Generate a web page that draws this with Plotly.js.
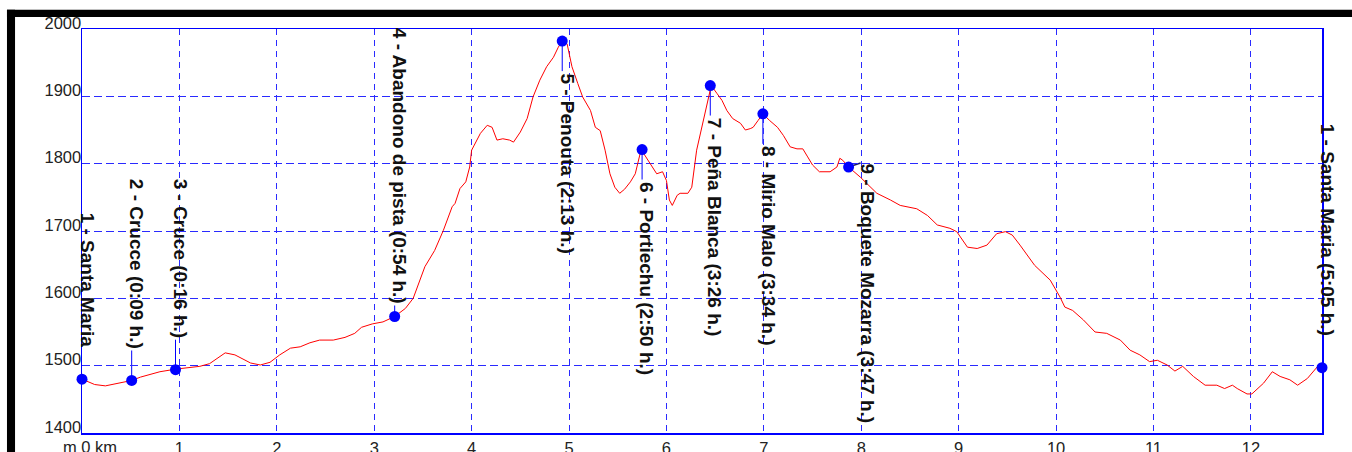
<!DOCTYPE html>
<html><head><meta charset="utf-8">
<script src="https://cdn.plot.ly/plotly-3.0.1.min.js"></script>
<style>html,body{margin:0;padding:0;background:#fff;overflow:hidden}#chart{width:1352px;height:452px}</style>
</head><body><div id="chart"></div>
<script>
// Elevation profile (distance in km, elevation in m)
const profileKm = [0.00,0.13,0.24,0.36,0.51,0.60,0.80,0.97,1.21,1.31,1.47,1.57,1.73,1.83,1.93,2.03,2.14,2.24,2.34,2.44,2.58,2.70,2.80,2.87,2.98,3.09,3.21,3.32,3.40,3.52,3.62,3.71,3.80,3.83,3.88,3.94,3.98,4.00,4.09,4.16,4.21,4.26,4.32,4.39,4.43,4.50,4.57,4.63,4.70,4.77,4.84,4.89,4.93,4.98,5.03,5.09,5.14,5.22,5.27,5.32,5.37,5.42,5.47,5.52,5.57,5.63,5.68,5.74,5.83,5.90,5.96,6.00,6.03,6.06,6.11,6.14,6.22,6.26,6.31,6.37,6.42,6.46,6.52,6.57,6.62,6.68,6.76,6.81,6.86,6.89,6.94,6.99,7.06,7.14,7.20,7.27,7.34,7.40,7.45,7.50,7.57,7.68,7.75,7.78,7.81,7.87,7.99,8.16,8.30,8.40,8.57,8.68,8.78,8.91,8.98,9.09,9.19,9.29,9.39,9.48,9.55,9.63,9.78,9.94,10.04,10.09,10.17,10.28,10.40,10.52,10.66,10.76,10.86,10.96,11.04,11.14,11.22,11.30,11.41,11.53,11.65,11.73,11.81,11.86,11.96,12.01,12.13,12.22,12.30,12.40,12.48,12.58,12.68,12.73];
const profileElev = [1480,1472,1470,1474,1478,1483,1491,1495,1499,1503,1519,1516,1504,1501,1505,1516,1526,1528,1534,1538,1538,1542,1548,1557,1562,1565,1573,1585,1600,1647,1671,1701,1736,1741,1763,1773,1795,1820,1845,1857,1854,1835,1837,1835,1832,1847,1867,1899,1924,1944,1958,1973,1982,1978,1944,1919,1899,1879,1854,1849,1820,1785,1765,1756,1762,1773,1785,1821,1800,1785,1788,1775,1746,1738,1753,1756,1756,1765,1820,1860,1894,1916,1904,1894,1879,1867,1860,1850,1852,1854,1864,1874,1864,1854,1842,1825,1822,1822,1810,1798,1788,1788,1795,1808,1805,1795,1780,1756,1746,1738,1733,1723,1709,1704,1699,1676,1674,1679,1696,1699,1694,1679,1649,1627,1602,1587,1582,1568,1550,1548,1538,1523,1516,1506,1508,1501,1492,1499,1484,1471,1471,1466,1471,1466,1458,1458,1474,1491,1484,1479,1471,1481,1498,1497];

// Waypoints
const waypointNames = ["1 - Santa Maria","2 - Crucce (0:09 h.)","3 - Cruce (0:16 h.)","4 - Abandono de pista (0:54 h.)","5 - Penouta (2:13 h.)","6 - Portiechu (2:50 h.)","7 - Peña Blanca (3:26 h.)","8 - Mirio Malo (3:34 h.)","9 - Boquete Mozarra (3:47 h.)","1 - Santa Maria (5:05 h.)"];
const waypointKm = [0, 0.51, 0.96, 3.21, 4.93, 5.75, 6.45, 6.99, 7.87, 12.73];
const waypointElev = [1480, 1478, 1494, 1573, 1982, 1821, 1916, 1874, 1795, 1497];

// Axes
const xTickValues = [0,1,2,3,4,5,6,7,8,9,10,11,12];
const xTickLabels = ["m 0 km","1","2","3","4","5","6","7","8","9","10","11","12"];
const yTickValues = [1400,1500,1600,1700,1800,1900,2000];
const yTickLabels = ["1400","1500","1600","1700","1800","1900","2000"];

const FONT = "'Liberation Sans', Arial, sans-serif";
const BLUE = "#0000ff";
const GRID = "#2a2aff";

const traces = [
  {x: profileKm, y: profileElev, type: 'scatter', mode: 'lines',
   line: {color: '#ff0000', width: 1}, hoverinfo: 'skip'},
  {x: waypointKm, y: waypointElev, type: 'scatter', mode: 'markers',
   marker: {color: BLUE, size: 11, symbol: 'circle'}, hoverinfo: 'skip', cliponaxis: false}
];

const shapes = [];
const annotations = [];
const xmax = waypointKm[waypointKm.length - 1];
waypointNames.forEach((name, i) => {
  const below = waypointElev[i] > 1700;
  const sideways = i === 8;
  let stem = (i === 3) ? 11 : 30;
  if (sideways) {
    shapes.push({type: 'line', xref: 'x', yref: 'y', xsizemode: 'pixel', ysizemode: 'pixel',
      xanchor: waypointKm[i], yanchor: waypointElev[i], x0: 0, x1: 12, y0: 0, y1: 4,
      line: {color: '#1a1a66', width: 1.5}, layer: 'below'});
    annotations.push({text: name, x: waypointKm[i], y: waypointElev[i], xref: 'x', yref: 'y',
      showarrow: false, textangle: 90, xanchor: 'center', yanchor: 'top', xshift: 19, yshift: 6,
      font: {family: FONT, size: 19, color: '#111', weight: 'bold'}});
    return;
  }
  if (i !== 0 && i !== waypointNames.length - 1) {
    shapes.push({type: 'line', xref: 'x', yref: 'y', ysizemode: 'pixel',
      yanchor: waypointElev[i], x0: waypointKm[i], x1: waypointKm[i], y0: 0, y1: below ? -stem : stem,
      line: {color: BLUE, width: 1}, layer: 'below'});
  }
  annotations.push({text: name, x: waypointKm[i], y: waypointElev[i], xref: 'x', yref: 'y',
    showarrow: false, textangle: 90, xanchor: 'center', yanchor: below ? 'top' : 'bottom',
    xshift: 5, yshift: below ? -stem : stem,
    font: {family: FONT, size: 19, color: '#111', weight: 'bold'}});
});

// "m 0 km" label
annotations.push({text: xTickLabels[0], x: xTickValues[0], y: 0, xref: 'x', yref: 'paper',
  showarrow: false, xanchor: 'center', yanchor: 'top', xshift: 8, yshift: -3,
  font: {family: FONT, size: 16.5, color: '#222'}});

// black frame bars
shapes.push({type: 'rect', xref: 'paper', yref: 'paper', x0: -0.0605, x1: -0.054, y0: -0.1, y1: 1.0475,
  fillcolor: '#000', line: {width: 0}, layer: 'above'});
shapes.push({type: 'rect', xref: 'paper', yref: 'paper', x0: -0.0605, x1: 1.05, y0: 1.0297, y1: 1.0475,
  fillcolor: '#000', line: {width: 0}, layer: 'above'});

const layout = {
  width: 1352, height: 452,
  margin: {l: 82, r: 30, t: 29, b: 19, pad: 0},
  paper_bgcolor: '#fff', plot_bgcolor: '#fff',
  showlegend: false,
  xaxis: {range: [0, xmax], tickmode: 'array', tickvals: xTickValues,
    ticktext: xTickLabels.map((t, i) => i === 0 ? '' : t),
    showgrid: true, gridcolor: GRID, gridwidth: 1, griddash: '6px,5px',
    showline: true, mirror: true, linecolor: BLUE, linewidth: 1.5,
    zeroline: false, ticks: '', ticklabelstandoff: 0,
    tickfont: {family: FONT, size: 16.5, color: '#222'}, fixedrange: true},
  yaxis: {range: [1400, 2000], tickmode: 'array', tickvals: yTickValues, ticktext: yTickLabels,
    showgrid: true, gridcolor: GRID, gridwidth: 1, griddash: '8px,4px',
    showline: true, mirror: true, linecolor: BLUE, linewidth: 1.5,
    zeroline: false, ticks: '', ticklabelstandoff: -4, ticklabelshift: -6,
    tickfont: {family: FONT, size: 16.5, color: '#222'}, fixedrange: true},
  shapes: shapes,
  annotations: annotations
};

Plotly.newPlot('chart', traces, layout, {displayModeBar: false, staticPlot: true});
</script>
</body></html>
